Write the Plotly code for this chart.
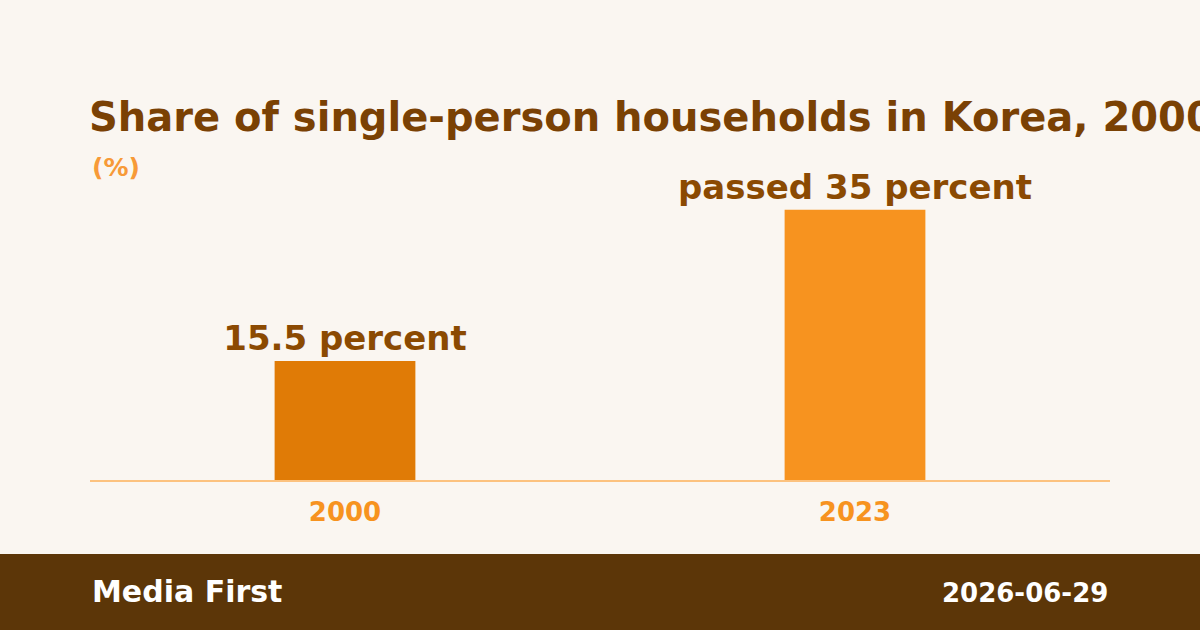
import plotly.graph_objects as go

# chart data
years = ["2000", "2023"]
shares = [15.5, 35.2]
bar_labels = ["15.5 percent", "passed 35 percent"]
bar_colors = ["#E07B06", "#F7931F"]

title_text = "Share of single-person households in Korea, 2000\u20132023"
unit_text = "(%)"
source_text = "Media First"
date_text = "2026-06-29"

W, H = 1200, 630
FONT = "DejaVu Sans"

fig = go.Figure()

fig.add_trace(go.Bar(
    x=years,
    y=shares,
    width=0.276,
    marker=dict(color=bar_colors, line=dict(width=0)),
    text=bar_labels,
    textposition="outside",
    constraintext="none",
    cliponaxis=False,
    textfont=dict(family=FONT, size=34, color="#8B4A02", weight="bold"),
    hoverinfo="skip",
))

# footer band
fig.add_shape(type="rect", xref="paper", yref="paper",
              x0=-90 / 1020, x1=1 + 90 / 1020, y0=-150 / 307, y1=-(554 - 480) / 307,
              fillcolor="#5C3608", line=dict(width=0), layer="below")

fig.add_annotation(text=unit_text, xref="paper", yref="paper", x=0, y=1 + (173 - 167) / 307,
                   xanchor="left", yanchor="middle", showarrow=False,
                   font=dict(family=FONT, size=25, color="#F79A38", weight="bold"))
fig.add_annotation(text=source_text, xref="paper", yref="paper", x=0, y=-(591 - 480) / 307,
                   xanchor="left", yanchor="middle", showarrow=False,
                   font=dict(family=FONT, size=30, color="white", weight="bold"))
fig.add_annotation(text=date_text, xref="paper", yref="paper", x=1, y=-(593 - 480) / 307,
                   xanchor="right", yanchor="middle", showarrow=False,
                   font=dict(family=FONT, size=26, color="white", weight="bold"))

fig.update_layout(
    width=W, height=H,
    margin=dict(l=90, r=90, t=173, b=150),
    paper_bgcolor="#FAF6F1",
    plot_bgcolor="#FAF6F1",
    showlegend=False,
    title=dict(text=title_text, x=89 / W, xanchor="left", xref="container",
               y=1 - 117 / H, yanchor="middle",
               font=dict(family=FONT, size=40, color="#7A4104", weight="bold")),
    xaxis=dict(showgrid=False, zeroline=False, showline=True, linecolor="#FCC27F", linewidth=2,
               ticks="", ticklabelstandoff=8,
               tickfont=dict(family=FONT, size=26, color="#F7931F", weight="bold")),
    yaxis=dict(range=[0, 40], visible=False, showgrid=False, zeroline=False),
)

fig.write_html("out.html", config={"displayModeBar": False},
               post_script="document.body.style.margin='0';")
